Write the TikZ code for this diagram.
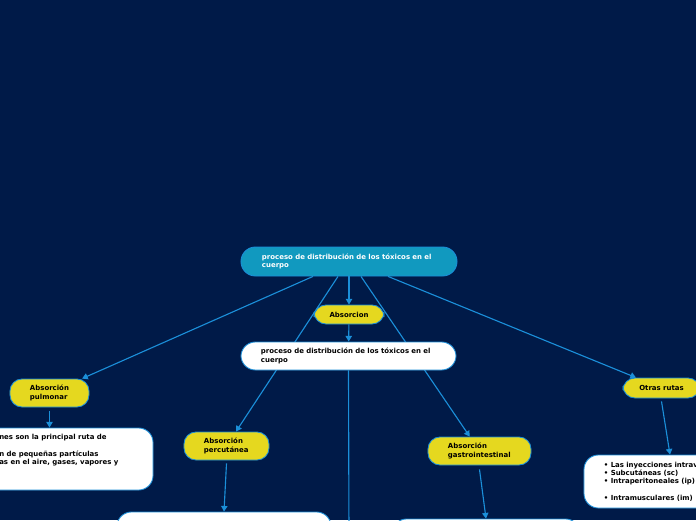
\documentclass[tikz,border=0pt]{standalone}
\usepackage{fontspec}
\setmainfont{DejaVu Sans}
\usetikzlibrary{arrows.meta, positioning}
\definecolor{fond}{HTML}{001A48}
\definecolor{bleu}{HTML}{1B8FD9}
\definecolor{turq}{HTML}{1199BF}
\definecolor{jaune}{HTML}{E5D81F}
\pgfdeclarelayer{arriere}
\pgfdeclarelayer{liens}
\pgfsetlayers{arriere,liens,main}

\tikzset{
  texte/.style={font=\fontsize{4.95}{5.9}\selectfont\bfseries},
  racine/.style={texte, draw=bleu, fill=turq, text=white, rounded corners=0.36cm,
    line width=0.6pt, align=left, inner ysep=1pt},
  bulle/.style={texte, draw=bleu, fill=jaune, text=black, rounded corners=0.3cm,
    line width=0.6pt, inner ysep=1pt},
  boite/.style={texte, draw=bleu, fill=white, text=black, rounded corners=0.36cm,
    line width=0.6pt, align=left, inner ysep=1pt},
  fleche/.style={bleu, line width=0.8pt, -{Triangle[width=4.5pt,length=4pt]}},
  ligne/.style={bleu, line width=0.8pt},
}

\begin{document}
\begin{tikzpicture}[x=0.025cm, y=-0.025cm]
  \useasboundingbox (0,0) rectangle (696,520);
  \begin{pgfonlayer}{arriere}
    \fill[fond] (0,0) rectangle (696,520);
  \end{pgfonlayer}

  % centre
  \node[racine, minimum height=0.725cm, inner xsep=0.525cm, text width=4.35cm] (racine) at (349,261.5)
    {proceso de distribución de los tóxicos en el\\cuerpo};
  \node[bulle, minimum width=1.75cm, minimum height=0.475cm, align=center] (absor) at (349,314.5) {Absorcion};
  \node[boite, minimum height=0.7cm, inner xsep=0.5cm, text width=4.375cm] (distrib) at (348.5,356)
    {proceso de distribución de los tóxicos en el\\cuerpo};
  \coordinate (bas) at (349,540);

  % les quatre voies
  \node[bulle, minimum height=0.7cm, inner xsep=0.5cm, text width=0.975cm, align=left] (pulm) at (49.5,393)
    {Absorción\\pulmonar};
  \node[bulle, minimum height=0.7cm, inner xsep=0.5cm, text width=1.125cm, align=left] (percu) at (226.5,446)
    {Absorción\\percutánea};
  \node[bulle, minimum height=0.7cm, inner xsep=0.5cm, text width=1.575cm, align=left] (gastro) at (479.5,451)
    {Absorción\\gastrointestinal};
  \node[bulle, minimum width=1.925cm, minimum height=0.5cm, align=center] (autres) at (661.5,388) {Otras rutas};

  % boites de detail
  \node[boite, minimum width=5.25cm, minimum height=1.55cm] (pulmbox) at (48,459) {};
  \node[texte, anchor=north west, inner sep=0pt, align=left] (pulmtxt) at (-1,434)
    {nes son la principal ruta de\\[6pt]n de pequeñas partículas\\as en el aire, gases, vapores y};
  \node[boite, minimum width=5.35cm, minimum height=1.5cm] (percbox) at (224,542) {};
  \node[boite, minimum width=4.7cm, minimum height=1.5cm] (gastbox) at (486,549) {};
  \node[boite, minimum height=1.325cm, inner xsep=0.5cm, text width=3.3cm] (autrbox) at (670,481.5)
    {• Las inyecciones intrav\\• Subcutáneas (sc)\\• Intraperitoneales (ip)\\[6pt]• Intramusculares (im)};

  \begin{pgfonlayer}{liens}
    \draw[fleche] ([xshift=-0.9cm]racine.south) -- (pulm);
    \draw[fleche] ([xshift=-0.275cm]racine.south) -- (percu);
    \draw[fleche] (racine.south) -- (absor);
    \draw[fleche] ([xshift=0.3cm]racine.south) -- (gastro);
    \draw[fleche] ([xshift=0.975cm]racine.south) -- (autres);
    \draw[fleche] (absor) -- (distrib);
    \draw[ligne] (distrib.south) -- (bas);
    \draw[fleche] ([yshift=-0.1cm]pulm.south) -- (pulmbox.north -| pulm.south);
    \draw[fleche] ([yshift=-0.075cm]percu.south) -- (percbox.north);
    \draw[fleche] ([yshift=-0.1cm]gastro.south) -- (gastbox.north);
    \draw[fleche] ([yshift=-0.075cm]autres.south) -- (autrbox.north);
  \end{pgfonlayer}
\end{tikzpicture}
\end{document}
